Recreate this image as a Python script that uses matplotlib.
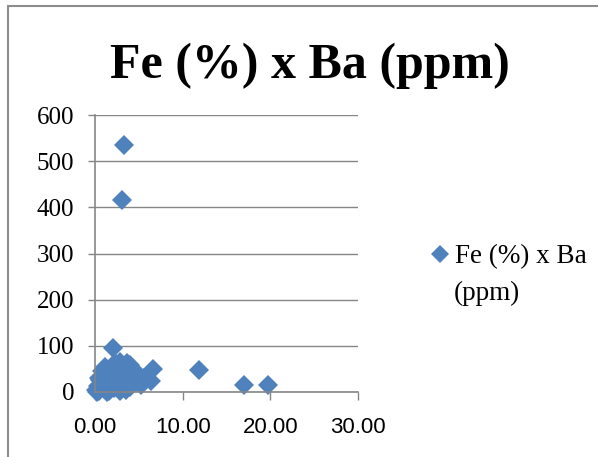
import matplotlib
matplotlib.use("Agg")
import matplotlib.pyplot as plt
from matplotlib.patches import Rectangle

# Fe (%) vs Ba (ppm)
fe = [3.3, 3.1, 2.0, 11.9, 17.0, 19.7, 6.6, 6.4,
      3.6, 4.0, 2.9, 2.4, 1.8, 1.3, 0.9, 0.6, 0.3, 0.1,
      0.5, 1.0, 1.5, 2.0, 2.6, 3.2, 3.8, 4.3, 4.8, 5.2,
      4.0, 3.5, 2.8, 2.2, 1.6, 1.2, 0.8, 1.9, 2.7, 3.4,
      4.5, 0.4, 1.1, 2.3, 3.0, 5.6, 1.4, 0.2]
ba = [535, 415, 95, 48, 15, 15, 50, 24,
      62, 58, 65, 55, 48, 40, 35, 25, 12, 5,
      2, 8, 15, 20, 30, 40, 45, 35, 22, 15,
      10, 5, 3, 8, 2, 20, 45, 35, 45, 25,
      48, 30, 55, 62, 15, 30, 0, 0]

label = ["Fe (%) x Ba", "(ppm)"]
yticks = [0, 100, 200, 300, 400, 500, 600]
xticks = [0, 10, 20, 30]

blue = "#4f81bd"
grid = "#868686"

W, H = 598, 457
fig = plt.figure(figsize=(W / 100, H / 100), dpi=100)
ax = fig.add_axes([95 / W, 1 - 392 / H, (358 - 95) / W, (392 - 115) / H])

ax.plot(fe, ba, linestyle="none", marker="D", markersize=10.5,
        color=blue, markeredgewidth=0, label=label[0], clip_on=False)

ax.set_xlim(0, 30)
ax.set_ylim(0, 600)
ax.set_yticks(yticks)
ax.set_yticklabels([str(v) for v in yticks], fontfamily="Liberation Serif", fontsize=18)
ax.set_xticks(xticks)
ax.set_xticklabels(["%.2f" % v for v in xticks], fontfamily="Liberation Sans", fontsize=16)
ax.tick_params(axis="y", length=5, width=1, color=grid, pad=10)
ax.tick_params(axis="x", length=6, width=1, color=grid, pad=12)
ax.yaxis.grid(True, color=grid, linewidth=1)
ax.set_axisbelow(True)
for s in ["top", "right"]:
    ax.spines[s].set_visible(False)
for s in ["left", "bottom"]:
    ax.spines[s].set_color(grid)
    ax.spines[s].set_linewidth(1.2)

fig.text(310 / W, 1 - 78 / H, "Fe (%) x Ba (ppm)", fontfamily="Liberation Serif",
         fontweight="bold", fontsize=36, ha="center", va="baseline")

# legend: marker next to the first line, label wraps onto a second line
leg = ax.legend(loc="upper left", bbox_to_anchor=(433 / W, 1 - 244 / H),
                bbox_transform=fig.transFigure, frameon=False,
                prop={"family": "Liberation Serif", "size": 19.5},
                handlelength=0.55, handletextpad=0.25, borderpad=0, borderaxespad=0,
                markerscale=0.85)
fig.text(454 / W, 1 - 300 / H, label[1], fontfamily="Liberation Serif",
         fontsize=19.5, ha="left", va="baseline")

fig.add_artist(Rectangle((8 / W, -0.1), 1.2, 1 - 6 / H + 0.1, transform=fig.transFigure,
                         fill=False, edgecolor="#8c8c8c", linewidth=1.5))

fig.savefig("out.png", dpi=100)
